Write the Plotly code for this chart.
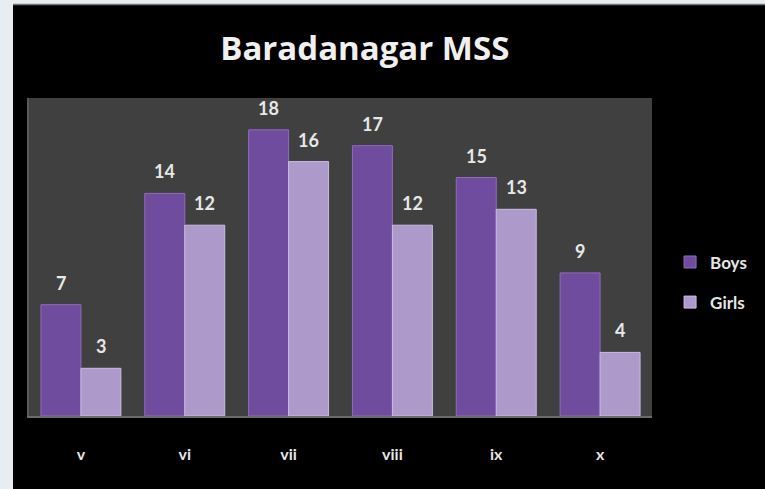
import plotly.graph_objects as go

categories = ["v", "vi", "vii", "viii", "ix", "x"]
boys = [7, 14, 18, 17, 15, 9]
girls = [3, 12, 16, 12, 13, 4]

BOYS_COLOR = "#6f4c9e"
GIRLS_COLOR = "#ad99ca"
FONT = "Lato"
BARGAP = 0.23

fig = go.Figure()
fig.add_trace(go.Bar(
    x=categories, y=boys, name="Boys", legendgroup="b",
    marker=dict(color=BOYS_COLOR, line=dict(color="#8e6cbe", width=1)),
))
fig.add_trace(go.Bar(
    x=categories, y=girls, name="Girls", legendgroup="g",
    marker=dict(color=GIRLS_COLOR, line=dict(color="#cbbce4", width=1)),
))

# data labels placed via the axes (grouped-bar offsets from bargap)
half = (1 - BARGAP) / 4
annotations = []
for i, (b, g) in enumerate(zip(boys, girls)):
    for val, off in ((b, -half), (g, half)):
        annotations.append(dict(
            x=i + off, y=val, xref="x", yref="y", text=str(val),
            showarrow=False, yanchor="bottom", yshift=9,
            font=dict(family=FONT, size=18, color="#e8e8e8", weight="bold"),
        ))

fig.update_layout(
    width=765, height=489,
    paper_bgcolor="#000000",
    plot_bgcolor="#404040",
    margin=dict(l=29, r=113, t=98, b=73),
    barmode="group", bargap=BARGAP, bargroupgap=0,
    title=dict(text="<b>Baradanagar MSS</b>", xref="paper", x=0.539, xanchor="center",
               y=0.9, yanchor="middle",
               font=dict(family="Open Sans", size=33, color="#f0f0f0")),
    font=dict(family=FONT, color="#e6e6e6"),
    showlegend=True,
    legend=dict(x=1.029, xanchor="left", y=0.42, yanchor="middle",
                font=dict(family=FONT, size=17, color="#e6e6e6", weight="bold"),
                bgcolor="rgba(0,0,0,0)", traceorder="grouped",
                tracegroupgap=15),
    xaxis=dict(showgrid=False, zeroline=False, showline=True,
               linecolor="#6a6a6a", linewidth=2,
               ticks="outside", ticklen=23, tickcolor="rgba(0,0,0,0)",
               tickfont=dict(family=FONT, size=16, color="#e6e6e6", weight="bold")),
    yaxis=dict(range=[0, 20], showgrid=False, zeroline=False,
               showticklabels=False, showline=True, linecolor="#5a5a5a",
               linewidth=2),
    annotations=annotations,
    shapes=[
        dict(type="rect", xref="paper", yref="paper",
             x0=-0.06, x1=-16/623, y0=-0.3, y1=1.35,
             fillcolor="#e8edf1", line=dict(width=0), layer="above"),
        dict(type="rect", xref="paper", yref="paper",
             x0=-0.06, x1=1.2, y0=(416-4)/318, y1=1.35,
             fillcolor="#e8edf1", line=dict(width=0), layer="above"),
        dict(type="line", xref="paper", yref="paper",
             x0=-16/623, x1=1.2, y0=(416-4.5)/318, y1=(416-4.5)/318,
             line=dict(color="#777777", width=1.5), layer="above"),
    ],
)

fig.write_html("out.html", config={"displayModeBar": False})

# remove default page margin so the figure fills the window exactly
with open("out.html", encoding="utf-8") as f:
    html = f.read()
html = html.replace("<head>", "<head><style>html,body{margin:0;padding:0;overflow:hidden;}</style>", 1)
with open("out.html", "w", encoding="utf-8") as f:
    f.write(html)
